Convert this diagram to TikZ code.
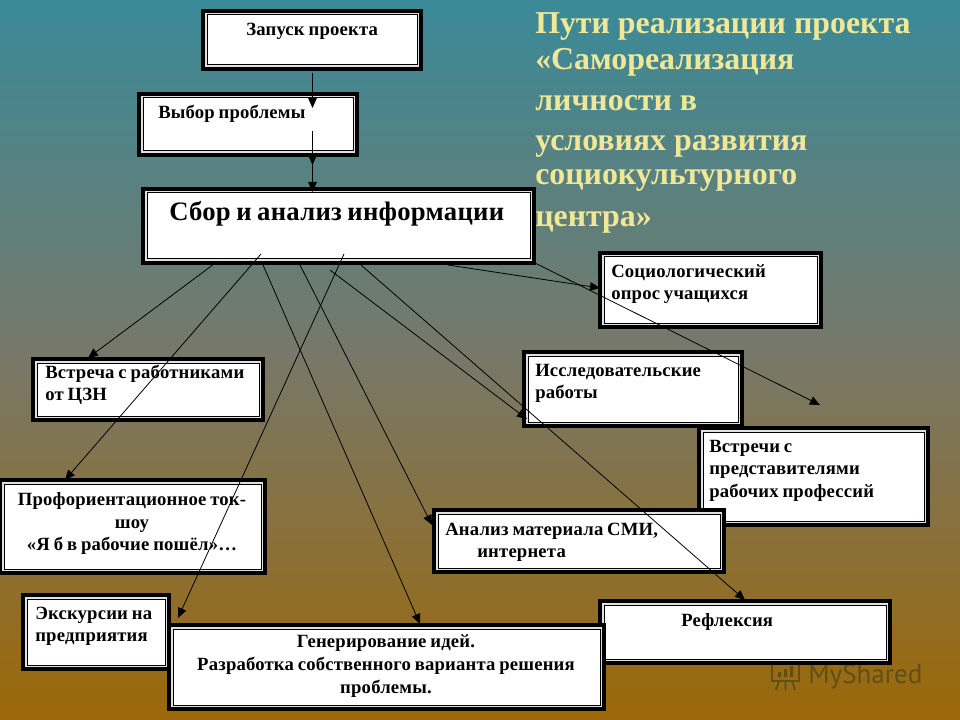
\documentclass[tikz,border=0pt]{standalone}
\usepackage{fontspec}
\setmainfont{Liberation Serif}[LetterSpace=1,WordSpace=0.8]
\newfontfamily\ttlfont{Liberation Serif}
\newfontfamily\wmfont{PT Sans}
\usetikzlibrary{arrows.meta}
\definecolor{bgtop}{RGB}{58,138,152}
\definecolor{bgmid}{RGB}{120,120,104}
\definecolor{bgbot}{RGB}{156,104,8}
\definecolor{titlecol}{RGB}{240,232,150}
\definecolor{wmcol}{RGB}{96,80,24}
\tikzset{
  x=0.75pt,y=-0.75pt,
  outerbox/.style={fill=black,draw=none,inner sep=0pt,outer sep=0pt},
  bandbox/.style={fill=black!12,draw=none},
  innerbox/.style={fill=white,draw=black,line width=0.75pt},
  lab/.style={anchor=base west,inner sep=0pt,font=\bfseries\fontsize{14}{16}\selectfont,text=black},
  labc/.style={lab,anchor=base},
  bighead/.style={lab,font=\bfseries\fontsize{20}{24}\selectfont},
  ttl/.style={anchor=base west,inner sep=0pt,font=\ttlfont\bfseries\fontsize{23.9}{28}\selectfont,text=titlecol},
  conn/.style={draw=black,line width=0.6pt,-{Triangle[length=7.5pt,width=6.5pt]}},
}
% \fr{name}{x1}{y1}{x2}{y2}: a framed box given by its outer corners
\newcommand{\fr}[5]{%
  \path[outerbox] (#2,#3) rectangle (#4,#5);
  \path[bandbox] (#2+4,#3+4) rectangle (#4-4,#5-4);
  \path[innerbox] (#2+6,#3+6) rectangle (#4-6,#5-6);
  \node[inner sep=0pt,outer sep=0pt,minimum size=0pt] (#1) at ({(#2+#4)/2},{(#3+#5)/2}) {};
  \coordinate (#1-nw) at (#2,#3);
  \coordinate (#1-se) at (#4,#5);
}
\begin{document}
\begin{tikzpicture}
\useasboundingbox (0,0) rectangle (960,720);
\path[top color=bgtop,bottom color=bgbot,middle color=bgmid] (0,0) rectangle (960,720);

% watermark
\node[anchor=base west,inner sep=0pt,text=wmcol,font=\wmfont\fontsize{20.3}{24}\selectfont] (wm) at (808,683) {MyShared};
\draw[wmcol,line width=1.4pt] (772,660) rectangle (799,681);
\draw[wmcol,line width=1.4pt] (779,681) -- (776,690) (792,681) -- (795,690) (785.5,681) -- (785.5,690);
\fill[wmcol] (778,672) rectangle (781,677) (784,669) rectangle (787,677) (790,666) rectangle (793,677);

% boxes
\fr{zap}{201}{9}{423}{71}
\fr{vyb}{137}{92}{359}{157}
\fr{sbor}{141}{187}{536}{265}
\fr{soc}{598}{251}{823}{329}
\fr{issl}{522}{350}{744}{428}
\fr{vstr}{697}{426}{930}{527}
\fr{anal}{432}{508}{726}{574}
\fr{refl}{598}{599}{892}{665}
\fr{czn}{31}{357}{265}{422}
\fr{prof}{-2}{478}{267}{575}
\fr{eks}{21}{593}{171}{671}
\fr{gen}{167}{623}{606}{711}

% texts
\node[lab] (t1) at (246,36) {Запуск проекта};
\node[lab] (t2) at (158,119) {Выбор проблемы};
\node[bighead] (t3) at (169,221) {Сбор и анализ информации};
\node[lab] (t4a) at (611,278) {Социологический};
\node[lab] (t4b) at (611,300) {опрос учащихся};
\node[lab] (t5a) at (535,376) {Исследовательские};
\node[lab] (t5b) at (535,398) {работы};
\node[lab] (t6a) at (709,452) {Встречи с};
\node[lab] (t6b) at (709,474) {представителями};
\node[lab] (t6c) at (709,497) {рабочих профессий};
\node[lab] (t7a) at (445,535) {Анализ материала СМИ,};
\node[lab] (t7b) at (477,557) {интернета};
\node[lab] (t8) at (681,626) {Рефлексия};
\node[lab] (t9a) at (45,378) {Встреча с работниками};
\node[lab] (t9b) at (45,400) {от ЦЗН};
\node[labc] (t10a) at (132,505) {Профориентационное ток-};
\node[labc] (t10b) at (132,528) {шоу};
\node[labc] (t10c) at (132,550) {«Я б в рабочие пошёл»…};
\node[lab] (t11a) at (35,619) {Экскурсии на};
\node[lab] (t11b) at (35,641) {предприятия};
\node[labc] (t12a) at (386,647) {Генерирование идей.};
\node[labc] (t12b) at (386,670) {Разработка собственного варианта решения};
\node[labc] (t12c) at (386,693) {проблемы.};

% title
\node[ttl] (h1) at (535,34) {Пути реализации проекта};
\node[ttl] (h2) at (535,70) {«Самореализация};
\node[ttl] (h3) at (535,111) {личности в};
\node[ttl] (h4) at (535,151) {условиях развития};
\node[ttl] (h5) at (535,185) {социокультурного};
\node[ttl] (h6) at (535,227) {центра»};

% connector ends
\coordinate (a1) at (312.5,73);    \coordinate (b1) at (312.5,108);
\coordinate (a2) at (312.5,131);   \coordinate (b2) at (312.5,165);
\coordinate (a3) at (312.5,158);   \coordinate (b3) at (312.5,192);
\coordinate (a4) at (214,264);     \coordinate (b4) at (88,358);
\coordinate (a5) at (261,254);     \coordinate (b5) at (65,480);
\coordinate (a6) at (344,254);     \coordinate (b6) at (178,618);
\coordinate (a7) at (263,265);     \coordinate (b7) at (420,624);
\coordinate (a8) at (300,265);     \coordinate (b8) at (432,525);
\coordinate (a9) at (330,270);     \coordinate (b9) at (527,419);
\coordinate (a10) at (361,265);    \coordinate (b10) at (745,600);
\coordinate (a11) at (448,265);    \coordinate (b11) at (600,288);
\coordinate (a12) at (535,263);    \coordinate (b12) at (820,405);

\foreach \i in {1,...,12} {\draw[conn] (a\i) -- (b\i);}
\end{tikzpicture}
\end{document}
